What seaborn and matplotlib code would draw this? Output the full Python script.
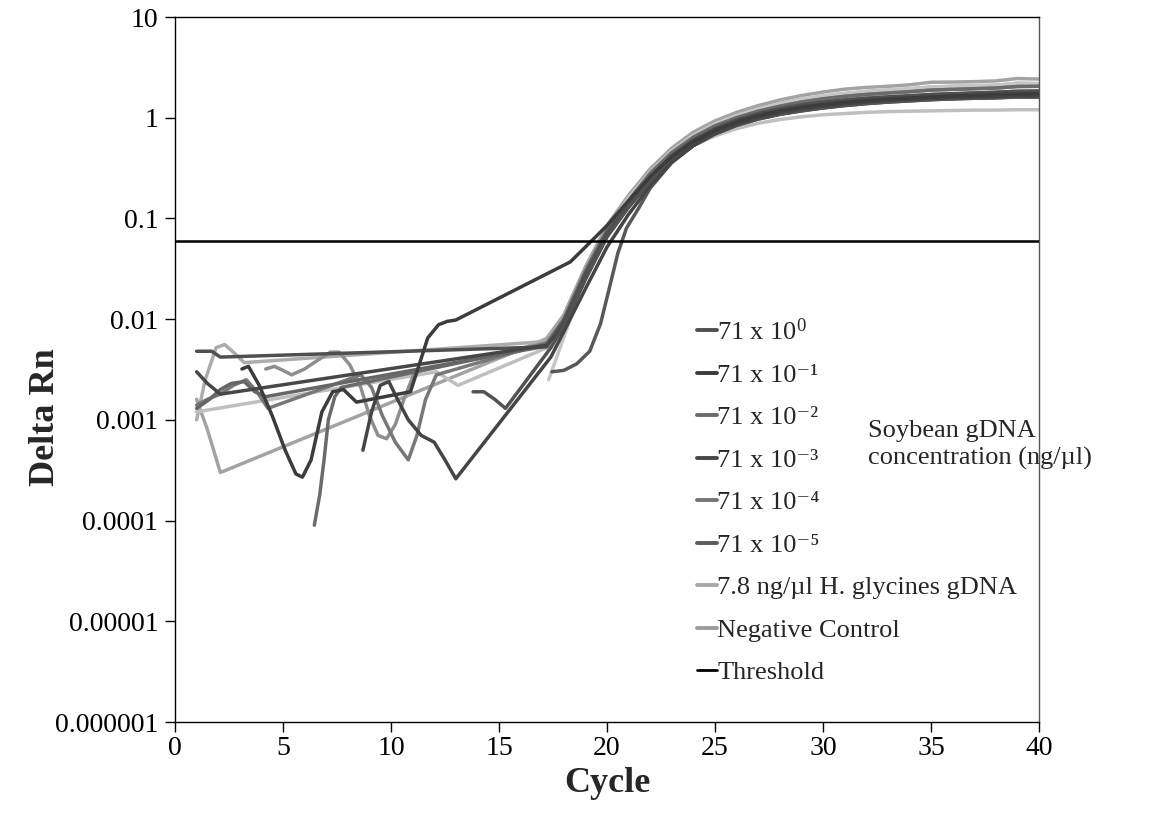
import numpy as np
import pandas as pd
import matplotlib
matplotlib.use("Agg")
import matplotlib.pyplot as plt
from matplotlib.lines import Line2D
from matplotlib.ticker import NullLocator
import seaborn as sns

# ---------------- data ----------------
x_ticks = [0, 5, 10, 15, 20, 25, 30, 35, 40]
y_ticks = [1e-6, 1e-5, 1e-4, 1e-3, 1e-2, 1e-1, 1, 10]
y_tick_labels = ["0.000001", "0.00001", "0.0001", "0.001", "0.01", "0.1", "1", "10"]
THRESHOLD = 0.06

series_labels = ["71 x 10$^{0}$", "71 x 10\u207b\u00b9", "71 x 10\u207b\u00b2", "71 x 10\u207b\u00b3",
                 "71 x 10\u207b\u2074", "71 x 10\u207b\u2075", "7.8 ng/\u00b5l H. glycines gDNA",
                 "Negative Control"]
series_colors = ["#4f4f4f", "#3c3c3c", "#6b6b6b", "#474747", "#767676", "#5c5c5c", "#a9a9a9", "#9c9c9c"]

tail_cycles = [18, 19, 20, 21, 22, 23, 24, 25, 26, 27, 28, 29, 30, 31, 32, 33, 34, 35, 36, 37, 38, 39, 40]

tail_top = [0.011, 0.033, 0.085, 0.17, 0.31, 0.50, 0.72, 0.93, 1.13, 1.32, 1.50, 1.66, 1.80,
            1.92, 2.00, 2.05, 2.12, 2.25, 2.26, 2.28, 2.32, 2.45, 2.42]
tail_hi = [0.0105, 0.031, 0.080, 0.16, 0.29, 0.47, 0.67, 0.87, 1.05, 1.22, 1.38, 1.52, 1.64,
           1.74, 1.82, 1.88, 1.93, 2.02, 2.05, 2.08, 2.10, 2.20, 2.18]
tail_hi2 = [0.010, 0.030, 0.077, 0.15, 0.28, 0.45, 0.64, 0.83, 1.00, 1.16, 1.30, 1.43, 1.54,
            1.63, 1.70, 1.76, 1.81, 1.88, 1.91, 1.94, 1.97, 2.04, 2.05]
tail_mid = [0.0095, 0.028, 0.072, 0.14, 0.26, 0.42, 0.60, 0.78, 0.95, 1.10, 1.23, 1.34, 1.43,
            1.50, 1.56, 1.61, 1.65, 1.70, 1.73, 1.76, 1.79, 1.83, 1.84]
tail_d1 = [0.009, 0.026, 0.068, 0.13, 0.24, 0.39, 0.56, 0.73, 0.89, 1.03, 1.15, 1.25, 1.33,
           1.40, 1.46, 1.51, 1.55, 1.59, 1.62, 1.65, 1.68, 1.71, 1.72]
tail_d2 = [0.0085, 0.025, 0.066, 0.13, 0.23, 0.37, 0.53, 0.69, 0.84, 0.97, 1.08, 1.17, 1.25,
           1.32, 1.38, 1.43, 1.47, 1.51, 1.54, 1.56, 1.58, 1.61, 1.62]
tail_low = [0.0085, 0.025, 0.065, 0.13, 0.24, 0.38, 0.53, 0.66, 0.78, 0.88, 0.96, 1.02, 1.07,
            1.10, 1.13, 1.15, 1.16, 1.17, 1.18, 1.19, 1.19, 1.20, 1.20]

# early (baseline) parts of individual wells
c1_x = [1, 1.7, 2.1, 17.2]
c1_y = [0.0048, 0.0048, 0.0042, 0.0053]

c2_x = [3.1, 3.4, 3.9, 4.5, 5.1, 5.6, 5.9, 6.3, 6.8, 7.3, 7.8, 8.4, 10.9, 11.3, 11.7, 12.2, 12.6, 13.0, 18.3,
        19, 20, 21, 22, 23, 24, 25, 26, 27, 28, 29, 30, 31, 32, 33, 34, 35, 36, 37, 38, 39, 40]
c2_y = [0.0032, 0.0034, 0.0022, 0.0011, 0.0005, 0.00029, 0.00027, 0.0004, 0.0012, 0.0019, 0.0020, 0.0015,
        0.0019, 0.0035, 0.0065, 0.0088, 0.0095, 0.0098, 0.037,
        0.052, 0.085, 0.15, 0.26, 0.41, 0.58, 0.75, 0.91, 1.05, 1.17, 1.27, 1.35, 1.42, 1.48, 1.53, 1.57,
        1.61, 1.64, 1.67, 1.70, 1.72, 1.73]

c3_x = [8.7, 9.1, 9.5, 9.9, 10.3, 10.8, 11.4, 12.0, 12.5, 13.0, 17.4,
        18, 19, 20, 21, 22, 23, 24, 25, 26, 27, 28, 29, 30, 31, 32, 33, 34, 35, 36, 37, 38, 39, 40]
c3_y = [0.0005, 0.0012, 0.0022, 0.0024, 0.0016, 0.0010, 0.0007, 0.0006, 0.0004, 0.00026, 0.0042,
        0.0075, 0.020, 0.052, 0.11, 0.21, 0.36, 0.53, 0.70, 0.86, 1.00, 1.12, 1.22, 1.30, 1.37, 1.43, 1.48,
        1.52, 1.55, 1.58, 1.60, 1.62, 1.64, 1.65]

c5_x = [6.45, 6.7, 6.9, 7.1, 7.4, 7.7, 17.2]
c5_y = [0.00009, 0.00018, 0.0004, 0.0010, 0.0017, 0.0021, 0.0056]

c6_x = [1, 1.4, 1.9, 2.3, 2.8, 3.2, 17.2]
c6_y = [0.0010, 0.0025, 0.0052, 0.0056, 0.0045, 0.0037, 0.0060]

c7_x = [1, 1.5, 2.1, 17.2]
c7_y = [0.0016, 0.0008, 0.0003, 0.0064]

c8_x = [4.2, 4.6, 5.0, 5.4, 6.0, 6.6, 7.2, 7.6, 8.1, 8.6, 9.0, 9.4, 9.8, 10.2, 10.6, 11.1, 17.2]
c8_y = [0.0032, 0.0034, 0.0031, 0.0028, 0.0032, 0.0039, 0.0047, 0.0047, 0.0035, 0.0021, 0.0011, 0.0007,
        0.00065, 0.0009, 0.0016, 0.0030, 0.0058]

c9_x = [1, 1.5, 2.1, 2.7, 3.3, 3.8, 4.3, 8.6, 9.1, 9.6, 10.2, 10.8, 11.2, 11.6, 12.1, 17.2]
c9_y = [0.0014, 0.0016, 0.0018, 0.0022, 0.0025, 0.0019, 0.0013, 0.0028, 0.0021, 0.0011, 0.0006, 0.0004,
        0.0007, 0.0016, 0.0028, 0.0058]

c10_x = [13.8, 14.3, 14.8, 15.3, 17.4]
c10_y = [0.0019, 0.0019, 0.0016, 0.0013, 0.0052]

c11_x = [17.45, 18.0, 18.6, 19.2, 19.7, 20.1, 20.5, 20.9, 21.5,
         22, 23, 24, 25, 26, 27, 28, 29, 30, 31, 32, 33, 34, 35, 36, 37, 38, 39, 40]
c11_y = [0.0030, 0.0031, 0.0036, 0.0048, 0.009, 0.020, 0.045, 0.08, 0.13,
         0.20, 0.36, 0.53, 0.70, 0.86, 1.00, 1.12, 1.22, 1.30, 1.37, 1.42, 1.46, 1.50, 1.53, 1.55, 1.57,
         1.58, 1.60, 1.60]

c12_x = [1.0, 12.1, 13.1, 17.4]
c12_y = [0.0012, 0.0030, 0.0022, 0.0054]

c13_x = [17.3, 17.8, 18.3, 19.0, 20.0]
c13_y = [0.0025, 0.005, 0.010, 0.028, 0.075]

c14_x = [1, 1.6, 2.1, 2.6, 3.2, 3.7, 4.2, 17.2]
c14_y = [0.0013, 0.0016, 0.0020, 0.0023, 0.0024, 0.0019, 0.0017, 0.0054]

c15_x = [1, 1.5, 2.1, 17.2]
c15_y = [0.0030, 0.0023, 0.0018, 0.0055]

# assemble wells: (cycles, values, colour)
wells = [
    (c7_x + tail_cycles, c7_y + tail_top, "#a3a3a3"),
    (c6_x + tail_cycles, c6_y + tail_hi, "#acacac"),
    (c13_x + tail_cycles[3:], c13_y + tail_hi[3:], "#c6c6c6"),
    (c12_x + tail_cycles, c12_y + tail_low, "#bfbfbf"),
    (c8_x + tail_cycles, c8_y + tail_hi2, "#8e8e8e"),
    (c9_x + tail_cycles, c9_y + tail_mid, "#787878"),
    (c5_x + tail_cycles, c5_y + tail_hi2, "#6b6b6b"),
    (c14_x + tail_cycles, c14_y + tail_d1, "#666666"),
    (c1_x + tail_cycles, c1_y + tail_mid, "#4f4f4f"),
    (c15_x + tail_cycles, c15_y + tail_d2, "#474747"),
    (c10_x + tail_cycles, c10_y + tail_d2, "#525252"),
    (c11_x, c11_y, "#585858"),
    (c3_x, c3_y, "#454545"),
    (c2_x, c2_y, "#3c3c3c"),
]

# ---------------- style ----------------
sns.set_theme(style="white")
plt.rcParams['font.family'] = ['Liberation Serif', 'DejaVu Serif']
plt.rcParams['mathtext.fontset'] = 'custom'
plt.rcParams['mathtext.rm'] = 'Liberation Serif'
plt.rcParams['mathtext.it'] = 'Liberation Serif:italic'
plt.rcParams['mathtext.bf'] = 'Liberation Serif:bold'

W, H = 1150, 830
fig = plt.figure(figsize=(W / 100, H / 100), dpi=100)
ax = fig.add_axes([175 / W, 1 - 722 / H, 864 / W, 705 / H])
ax.set_yscale("log")

for xs, ys, col in wells:
    sns.lineplot(x=xs, y=ys, color=col, linewidth=2.5, ax=ax, estimator=None, sort=False)

ax.axhline(THRESHOLD, color="black", linewidth=1.8, zorder=5)

ax.set_xlim(0, 40)
ax.set_ylim(1e-6, 10)
ax.set_xticks(x_ticks)
ax.set_xticklabels([str(v) for v in x_ticks])
ax.set_yticks(y_ticks)
ax.set_yticklabels(y_tick_labels)
ax.yaxis.set_minor_locator(NullLocator())
ax.tick_params(axis="both", which="major", direction="out", length=7, width=1,
               bottom=True, left=True, labelsize=20, colors="black", pad=5)
ax.tick_params(axis="x", pad=3)
for side in ["left", "bottom", "top", "right"]:
    ax.spines[side].set_visible(True)
    ax.spines[side].set_color("black")
    ax.spines[side].set_linewidth(1.0)
ax.spines["right"].set_color("#555555")
ax.grid(False)

# legend
handles = [Line2D([0], [0], color=c, linewidth=2.8) for c in series_colors]
handles.append(Line2D([0], [0], color="black", linewidth=2.0))
labels = series_labels + ["Threshold"]
leg = ax.legend(handles, labels, loc="upper left", bbox_to_anchor=((697 - 175) / 864, (722 - 318) / 705),
                frameon=False, fontsize=19, handlelength=0.75, handletextpad=0.02,
                labelspacing=0.72, borderpad=0, borderaxespad=0)

fig.text(868 / W, 1 - 445 / H, "Soybean gDNA\nconcentration (ng/\u00b5l)", fontsize=19,
         ha="left", va="center", linespacing=1.3)

fig.text(607 / W, 1 - 783 / H, "Cycle", fontsize=26, fontweight="bold", ha="center", va="center")
fig.text(45 / W, 1 - 417 / H, "Delta Rn", fontsize=26, fontweight="bold", ha="center", va="center",
         rotation=90)

fig.savefig("out.png", dpi=100)
